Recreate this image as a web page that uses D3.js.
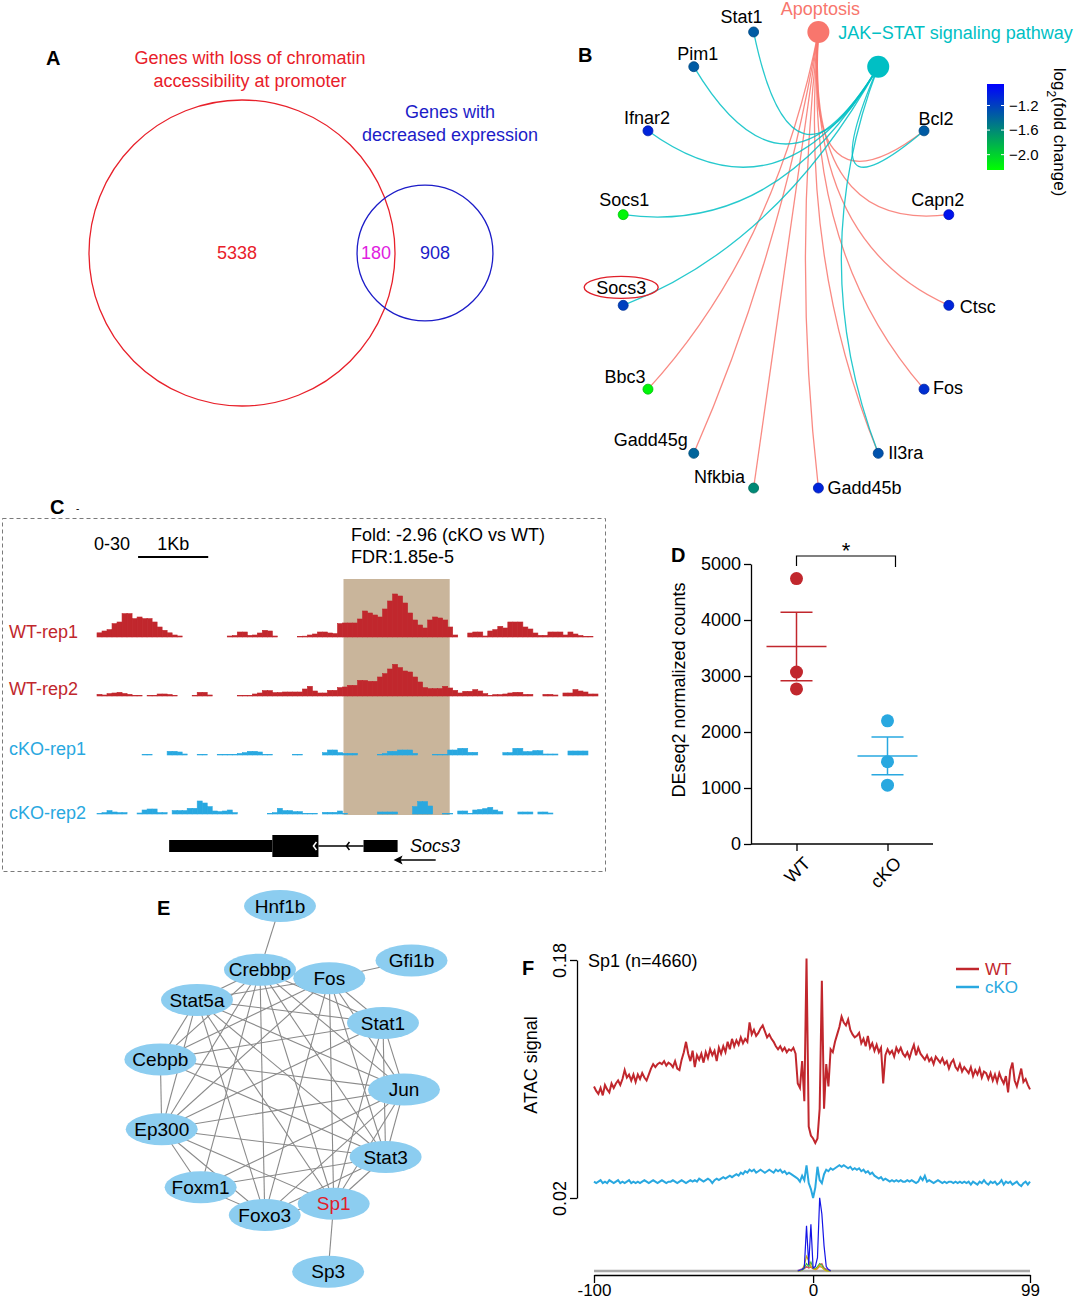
<!DOCTYPE html>
<html>
<head>
<meta charset="utf-8">
<script src="https://cdn.jsdelivr.net/npm/d3@7"></script>
<style>
body { margin: 0; background: #fff; }
svg text { font-family: "Liberation Sans", Arial, Helvetica, sans-serif; }
</style>
</head>
<body>
<div id="fig"></div>
<script>
// ---------- A: venn ----------
const vennTitles = [["Genes with loss of chromatin", "accessibility at promoter"], ["Genes with", "decreased expression"]];
const vennCounts = [5338, 180, 908]; // left only, both, right only

// ---------- B: gene-concept network ----------
const pathways = ["Apoptosis", "JAK\u2212STAT signaling pathway"];
const cnetGenes = ["Bcl2", "Capn2", "Ctsc", "Fos", "Il3ra", "Gadd45b", "Nfkbia", "Gadd45g", "Bbc3", "Socs3", "Socs1", "Ifnar2", "Pim1", "Stat1"];
const cnetFoldChange = [-1.35, -0.95, -1.05, -1.1, -1.3, -1.05, -1.6, -1.4, -2.2, -1.2, -2.2, -1.05, -1.35, -1.35];
const apoptosisGenes = ["Bcl2", "Capn2", "Ctsc", "Fos", "Il3ra", "Gadd45b", "Nfkbia", "Gadd45g", "Bbc3"];
const jakStatGenes = ["Bcl2", "Il3ra", "Socs3", "Socs1", "Ifnar2", "Pim1", "Stat1"];
const fcTicks = [-1.2, -1.6, -2.0];
const fcRange = [-2.25, -0.85];

// ---------- C: ATAC tracks (0-30 scale, bins of ~71 bp) ----------
const wtRep1 = [2.5, 3.6, 4.4, 8, 9, 14, 14, 11, 12, 11, 11, 9, 6, 4, 2.5, 1.2, 0.6,
  0, 0, 0, 0, 0, 0, 0, 0, 0,
  0.6, 0.9, 3, 3, 1, 1.2, 2.4, 4, 3.6, 0.6,
  0, 0, 0, 0,
  0.4, 0.5, 1.2, 1.8, 3, 3, 2.4, 2, 8, 8.4, 8.4, 8.4, 10.8, 15.6, 14.4, 13.2, 12, 16.8, 21.6, 25.8, 24.6, 20.4, 14.4, 10.2, 7.2, 5.4, 10.2, 12, 11.4, 10.2, 6, 1.2,
  0, 0,
  2.4, 3, 3, 0.6, 3.6, 4.4, 6.4, 5.4, 9, 9, 9, 6, 4.8, 2.4, 1, 1, 3, 3, 3, 1.2, 3, 1.8, 0.9, 0.4, 0.4, 0];
const wtRep2 = [1, 0.6, 1.4, 1.8, 2.2, 1.5, 1, 0.4, 0.4, 0, 0.4, 0.4, 1.2, 1.2, 0.9, 0.4, 0, 0, 0, 0.4,
  2.2, 2.2, 0.6, 0, 0, 0, 0, 0, 0.4, 0.4, 0.4, 1.2, 1.8, 3.2, 3.2, 2, 2.1, 2.4, 2.4, 2.4,
  2.4, 4.2, 5.8, 3, 1.8, 1.8, 3.4, 3.4, 5, 5.4, 6.4, 6.4, 9.4, 9.3, 8.8, 8.8, 11.4, 13.4, 16.2, 19,
  17, 15, 14.4, 11.4, 8.4, 5, 4.4, 4.4, 4.4, 5.8, 4.8, 3.4, 1.8, 2.8, 2.8, 3.8, 3, 1.4, 0.4, 0.8,
  0.8, 1.2, 1.8, 2.2, 2.2, 1, 1, 0, 0, 1, 1, 0.6, 0, 1.8, 1.8, 3.8, 3, 2.4, 1.2, 1.2];
const koRep1 = [0, 0, 0, 0, 0, 0, 0, 0, 0, 0.4, 0.4, 0, 0, 0, 2.2, 2.2, 1.8, 0.6, 0, 0,
  0.4, 0.4, 0, 0, 0.4, 0.4, 0.4, 0.4, 0.9, 1.4, 2.2, 2.2, 1.8, 0.4, 0.4, 0, 0, 0, 0, 0.4,
  0.4, 0, 0, 0, 0, 1.4, 3, 3, 1.4, 1, 1, 1, 0, 0, 0, 0, 0.4, 0.9, 2.2, 2.2,
  3, 3, 3, 1, 0, 0, 0, 0.4, 0.4, 0.4, 3, 3, 4, 4, 1.6, 1.6, 0, 0, 0, 0,
  0, 1.4, 1.4, 4, 4, 2, 2, 2.6, 2.6, 0.6, 0.6, 0.6, 0, 0, 2.4, 2.4, 2.4, 2.4, 0, 0];
const koRep2 = [0.3, 0.8, 2, 1.2, 0.8, 0.8, 0, 0, 0.6, 2.4, 3, 3, 0.8, 0.8, 0, 2, 2, 2, 3.4, 3.4,
  7.8, 6.6, 4.4, 1.8, 1.4, 1.8, 2.4, 0.8, 0, 0, 0, 0, 0, 0, 0.4, 0.8, 3.4, 2, 2, 1.4,
  1.4, 0.4, 0.4, 0.4, 0, 1, 1, 1, 1.8, 0.4, 0, 0, 0, 0, 0, 0, 1.2, 1.2, 1.2, 1.2,
  0, 0, 0, 4.4, 7.4, 7.4, 4.8, 0, 0, 0.4, 0.4, 0, 1.8, 1.8, 0.4, 2.4, 2.7, 3.2, 4, 2.4,
  1.4, 0, 0, 0, 1.2, 1.2, 1.2, 0, 1.2, 1.2, 0.6, 0, 0, 0, 0, 0, 0, 0, 0, 0];
const peakRegion = [49.2, 70.4];      // bins
const scaleBar1Kb = [8.2, 22.2];      // bins
const geneUTR = [14.4, 35];
const geneCDS = [35, 44.2];
const geneIntron = [44.2, 53.2];
const geneExon2 = [53.2, 60];
const strandArrow = [67.6, 59.2];

// ---------- D: DESeq2 counts ----------
const groups = ["WT", "cKO"];
const countsWT = [4740, 3070, 2770];
const countsKO = [2200, 1470, 1050];
const countTicks = [0, 1000, 2000, 3000, 4000, 5000];

// ---------- E: PPI network ----------
const ppiCore = ["Crebbp", "Fos", "Stat1", "Jun", "Stat3", "Sp1", "Foxo3", "Foxm1", "Ep300", "Cebpb", "Stat5a"];
const ppiOuter = ["Hnf1b", "Gfi1b", "Sp3"];
const ppiOuterAngle = [0, 45, 165];
const ppiEdges = [
  ["Crebbp", "Fos"], ["Crebbp", "Stat1"], ["Crebbp", "Jun"], ["Crebbp", "Stat3"], ["Crebbp", "Sp1"], ["Crebbp", "Foxo3"],
  ["Crebbp", "Foxm1"], ["Crebbp", "Ep300"], ["Crebbp", "Cebpb"], ["Crebbp", "Stat5a"],
  ["Fos", "Stat1"], ["Fos", "Jun"], ["Fos", "Stat3"], ["Fos", "Sp1"], ["Fos", "Foxo3"], ["Fos", "Ep300"], ["Fos", "Cebpb"], ["Fos", "Stat5a"],
  ["Stat1", "Jun"], ["Stat1", "Stat3"], ["Stat1", "Sp1"], ["Stat1", "Ep300"], ["Stat1", "Cebpb"], ["Stat1", "Stat5a"],
  ["Jun", "Stat3"], ["Jun", "Sp1"], ["Jun", "Foxo3"], ["Jun", "Foxm1"], ["Jun", "Ep300"], ["Jun", "Cebpb"], ["Jun", "Stat5a"],
  ["Stat3", "Sp1"], ["Stat3", "Foxo3"], ["Stat3", "Foxm1"], ["Stat3", "Ep300"], ["Stat3", "Cebpb"], ["Stat3", "Stat5a"],
  ["Sp1", "Foxo3"], ["Sp1", "Ep300"], ["Sp1", "Stat5a"],
  ["Foxo3", "Foxm1"], ["Foxo3", "Ep300"], ["Foxo3", "Stat5a"],
  ["Foxm1", "Ep300"], ["Ep300", "Cebpb"], ["Ep300", "Stat5a"], ["Cebpb", "Stat5a"],
  ["Hnf1b", "Crebbp"], ["Gfi1b", "Fos"], ["Sp3", "Sp1"]];

// ---------- F: ATAC aggregate around Sp1 motif ----------
const atacWT = [
  0.095, 0.092, 0.090, 0.094, 0.089, 0.096, 0.093, 0.091, 0.097, 0.094,
  0.097, 0.099, 0.096, 0.100, 0.106, 0.101, 0.103, 0.099, 0.103, 0.098,
  0.103, 0.100, 0.104, 0.101, 0.099, 0.103, 0.107, 0.110, 0.108, 0.110,
  0.111, 0.110, 0.112, 0.109, 0.111, 0.110, 0.108, 0.112, 0.107, 0.106,
  0.113, 0.118, 0.125, 0.117, 0.112, 0.119, 0.108, 0.116, 0.113, 0.117,
  0.111, 0.118, 0.114, 0.120, 0.116, 0.119, 0.112, 0.121, 0.117, 0.122,
  0.118, 0.125, 0.120, 0.127, 0.122, 0.126, 0.123, 0.128, 0.124, 0.127,
  0.125, 0.138, 0.130, 0.133, 0.129, 0.131, 0.134, 0.136, 0.132, 0.128,
  0.130, 0.127, 0.125, 0.122, 0.120, 0.122, 0.119, 0.121, 0.118, 0.120,
  0.119, 0.121, 0.117, 0.097, 0.094, 0.112, 0.085, 0.181, 0.068, 0.062,
  0.060, 0.057, 0.060, 0.080, 0.166, 0.080, 0.110, 0.095, 0.120, 0.118,
  0.125, 0.130, 0.135, 0.142, 0.138, 0.136, 0.140, 0.133, 0.130, 0.128,
  0.129, 0.131, 0.124, 0.127, 0.122, 0.129, 0.121, 0.124, 0.119, 0.123,
  0.118, 0.121, 0.097, 0.116, 0.120, 0.117, 0.119, 0.115, 0.121, 0.118,
  0.121, 0.117, 0.115, 0.118, 0.114, 0.119, 0.123, 0.116, 0.121, 0.117,
  0.115, 0.113, 0.116, 0.112, 0.114, 0.110, 0.115, 0.113, 0.111, 0.114,
  0.110, 0.112, 0.107, 0.111, 0.113, 0.108, 0.106, 0.110, 0.105, 0.108,
  0.106, 0.104, 0.108, 0.102, 0.106, 0.103, 0.107, 0.101, 0.105, 0.104,
  0.100, 0.104, 0.099, 0.103, 0.098, 0.104, 0.100, 0.097, 0.102, 0.091,
  0.106, 0.111, 0.099, 0.095, 0.101, 0.107, 0.098, 0.100, 0.096, 0.093];
const atacKO = [
  0.031, 0.030, 0.031, 0.032, 0.030, 0.031, 0.030, 0.032, 0.031, 0.030,
  0.031, 0.032, 0.030, 0.031, 0.030, 0.031, 0.032, 0.030, 0.031, 0.030,
  0.031, 0.030, 0.031, 0.032, 0.031, 0.030, 0.031, 0.032, 0.031, 0.030,
  0.031, 0.032, 0.031, 0.030, 0.031, 0.031, 0.032, 0.031, 0.030, 0.031,
  0.032, 0.031, 0.030, 0.031, 0.032, 0.031, 0.032, 0.031, 0.033, 0.032,
  0.031, 0.032, 0.033, 0.032, 0.030, 0.032, 0.033, 0.032, 0.033, 0.034,
  0.033, 0.034, 0.035, 0.034, 0.035, 0.036, 0.035, 0.037, 0.036, 0.038,
  0.037, 0.039, 0.038, 0.039, 0.037, 0.038, 0.039, 0.038, 0.037, 0.038,
  0.039, 0.038, 0.037, 0.039, 0.038, 0.039, 0.037, 0.038, 0.036, 0.037,
  0.036, 0.035, 0.034, 0.033, 0.031, 0.035, 0.032, 0.042, 0.030, 0.026,
  0.020, 0.027, 0.041, 0.032, 0.030, 0.036, 0.039, 0.038, 0.040, 0.039,
  0.040, 0.041, 0.042, 0.041, 0.042, 0.041, 0.040, 0.041, 0.039, 0.040,
  0.039, 0.040, 0.038, 0.039, 0.037, 0.038, 0.036, 0.037, 0.035, 0.034,
  0.033, 0.034, 0.032, 0.033, 0.032, 0.031, 0.032, 0.031, 0.032, 0.031,
  0.032, 0.031, 0.031, 0.032, 0.031, 0.032, 0.031, 0.030, 0.031, 0.034,
  0.032, 0.035, 0.031, 0.032, 0.031, 0.030, 0.031, 0.032, 0.031, 0.030,
  0.031, 0.030, 0.031, 0.031, 0.030, 0.031, 0.030, 0.031, 0.030, 0.031,
  0.030, 0.031, 0.029, 0.031, 0.030, 0.029, 0.031, 0.030, 0.032, 0.030,
  0.029, 0.031, 0.030, 0.031, 0.029, 0.030, 0.032, 0.029, 0.031, 0.030,
  0.031, 0.029, 0.030, 0.031, 0.029, 0.028, 0.030, 0.031, 0.029, 0.031];
const atacTicksX = [-100, 0, 99];
const atacTicksY = [0.02, 0.18];
// motif base frequency overlay, positions -7..8
const motifPos = [-7, -6, -5, -4, -3, -2, -1, 0, 1, 2, 3, 4, 5, 6, 7, 8];
const motifSeries = [
  {color: "#9b6fc0", values: [1, 2, 3, 4, 5, 5, 6, 4, 3, 4, 6, 5, 4, 3, 2, 1]},
  {color: "#e04a5a", values: [0, 1, 2, 3, 6, 4, 5, 3, 2, 3, 8, 10, 4, 2, 1, 0]},
  {color: "#3fae49", values: [0, 0, 1, 4, 10, 6, 12, 4, 3, 6, 10, 8, 3, 1, 0, 0]},
  {color: "#d9b300", values: [0, 0, 2, 8, 20, 14, 6, 3, 2, 4, 8, 5, 2, 0, 0, 0]},
  {color: "#1414e6", values: [0, 1, 2, 5, 61, 8, 63, 4, 6, 18, 99, 77, 34, 6, 2, 0]}];

// ---------- drawing ----------
const red = "#c1272d", blue = "#29a8e0";
const svg = d3.select("#fig").append("svg").attr("width", 1082).attr("height", 1300);

function label(t, x, y) {
  svg.append("text").attr("x", x).attr("y", y).text(t)
    .style("font-size", "20px").style("font-weight", "bold");
}
function styleAxis(g) {
  g.attr("font-family", null).attr("font-size", null);
  g.selectAll("text").style("font-size", "18px").attr("fill", "#000");
  g.selectAll("line, path").attr("stroke", "#000").attr("stroke-width", 1.3);
}

// A
label("A", 46, 65);
const vennR = d3.scaleSqrt().domain([0, vennCounts[0] + vennCounts[1]]).range([0, 153]);
const vennX = d3.scaleLinear().domain([0, 1]).range([242, 425]);
const vennY = 253;
const sets = [
  {r: vennR(vennCounts[0] + vennCounts[1]), color: "#e8202a", titleX: 250, titleY: 64},
  {r: vennR(vennCounts[1] + vennCounts[2]), color: "#1c1cc8", titleX: 450, titleY: 118}];
sets.forEach(function(s, i) {
  svg.append("circle").attr("cx", vennX(i)).attr("cy", vennY).attr("r", s.r)
    .attr("fill", "none").attr("stroke", s.color).attr("stroke-width", 1.3);
  vennTitles[i].forEach(function(line, j) {
    svg.append("text").attr("x", s.titleX).attr("y", s.titleY + j * 23).text(line)
      .attr("text-anchor", "middle").attr("fill", s.color).style("font-size", "18px");
  });
});
const vennNumX = [vennX(0) - 5, (vennX(1) - sets[1].r + vennX(0) + sets[0].r) / 2, vennX(1) + 10];
const vennNumColor = ["#e8202a", "#e020e0", "#1c1cc8"];
vennCounts.forEach(function(c, i) {
  svg.append("text").attr("x", vennNumX[i]).attr("y", vennY + 6).text(c)
    .attr("text-anchor", "middle").attr("fill", vennNumColor[i]).style("font-size", "18px");
});

// B
label("B", 578, 62);
const pathColor = ["#F8766D", "#00BFC4"];
const cnetNodes = pathways.concat(cnetGenes);
const bx = d3.scaleLinear().domain([-1, 1]).range([620, 952]);
const by = d3.scaleLinear().domain([-1, 1]).range([27.5, 492.5]);
const fcColor = d3.scaleLinear().domain(fcRange).range(["#00ff00", "#0000ff"]).interpolate(d3.interpolateRgb);
const nodePos = new Map();
cnetNodes.forEach(function(n, i) {
  let a = (i + 0.5) * 2 * Math.PI / cnetNodes.length;
  nodePos.set(n, [bx(Math.sin(a)), by(-Math.cos(a))]);
});
const ctr = [bx(0), by(0)];
function arcPath(s, t) {
  let m = [(s[0] + t[0]) / 2, (s[1] + t[1]) / 2];
  let c = [m[0] + 0.8 * (ctr[0] - m[0]), m[1] + 0.8 * (ctr[1] - m[1])];
  return "M" + s + "Q" + c + " " + t;
}
[apoptosisGenes, jakStatGenes].forEach(function(list, k) {
  svg.append("g").selectAll("path").data(list).enter().append("path")
    .attr("d", g => arcPath(nodePos.get(pathways[k]), nodePos.get(g)))
    .attr("fill", "none").attr("stroke", pathColor[k]).attr("stroke-width", 1.3).attr("opacity", 0.85);
});
pathways.forEach(function(p, k) {
  let pos = nodePos.get(p);
  svg.append("circle").attr("cx", pos[0]).attr("cy", pos[1]).attr("r", 11).attr("fill", pathColor[k]);
});
svg.append("g").selectAll("circle").data(cnetGenes).enter().append("circle")
  .attr("cx", g => nodePos.get(g)[0]).attr("cy", g => nodePos.get(g)[1]).attr("r", 5)
  .attr("fill", (g, i) => fcColor(cnetFoldChange[i]))
  .attr("stroke", (g, i) => d3.color(fcColor(cnetFoldChange[i])).darker(0.7)).attr("stroke-width", 0.8);

// label nudges [dx, dy, anchor]
const nudge = {
  "Apoptosis": [2, -23, "middle"], "JAK\u2212STAT signaling pathway": [-40, -34, "start"],
  "Bcl2": [12, -12, "middle"], "Capn2": [-11, -15, "middle"], "Ctsc": [11, 1, "start"],
  "Fos": [9, -1, "start"], "Il3ra": [10, -1, "start"], "Gadd45b": [9, 0, "start"],
  "Nfkbia": [-34, -11, "middle"], "Gadd45g": [-43, -14, "middle"], "Bbc3": [-23, -12, "middle"],
  "Socs3": [-2, -18, "middle"], "Socs1": [1, -15, "middle"], "Ifnar2": [-1, -13, "middle"],
  "Pim1": [4, -13, "middle"], "Stat1": [-12, -15, "middle"]};
cnetNodes.forEach(function(n, i) {
  let pos = nodePos.get(n), nd = nudge[n];
  svg.append("text").attr("x", pos[0] + nd[0]).attr("y", pos[1] + nd[1]).attr("dy", "0.35em")
    .attr("text-anchor", nd[2]).text(n).style("font-size", "18px")
    .attr("fill", i < 2 ? pathColor[i] : "#000");
});
let s3 = nodePos.get("Socs3");
svg.append("ellipse").attr("cx", s3[0] - 2).attr("cy", s3[1] - 18).attr("rx", 37).attr("ry", 11)
  .attr("fill", "none").attr("stroke", "#e0202a").attr("stroke-width", 1.4);

// colour bar
const cbY = d3.scaleLinear().domain([fcRange[1], fcRange[0]]).range([84, 170]);
const grad = svg.append("defs").append("linearGradient").attr("id", "fcgrad")
  .attr("x1", 0).attr("y1", 0).attr("x2", 0).attr("y2", 1);
d3.range(0, 1.01, 0.1).forEach(function(t) {
  grad.append("stop").attr("offset", t).attr("stop-color", fcColor(cbY.invert(84 + t * 86)));
});
svg.append("rect").attr("x", 987).attr("y", cbY(fcRange[1])).attr("width", 17)
  .attr("height", cbY(fcRange[0]) - cbY(fcRange[1])).attr("fill", "url(#fcgrad)");
fcTicks.forEach(function(v) {
  svg.append("line").attr("x1", 987).attr("x2", 990).attr("y1", cbY(v)).attr("y2", cbY(v)).attr("stroke", "#fff");
  svg.append("line").attr("x1", 1001).attr("x2", 1004).attr("y1", cbY(v)).attr("y2", cbY(v)).attr("stroke", "#fff");
  svg.append("text").attr("x", 1009).attr("y", cbY(v)).attr("dy", "0.35em")
    .text(d3.format(".1f")(v).replace("-", "\u2212")).style("font-size", "15px");
});
const lt = svg.append("text").attr("transform", "translate(1060,132) rotate(90)")
  .attr("text-anchor", "middle").attr("dy", "0.35em").style("font-size", "17px");
lt.append("tspan").text("log");
lt.append("tspan").text("2").attr("baseline-shift", "sub").style("font-size", "12px");
lt.append("tspan").text("(fold change)");

// C
label("C", 50, 514);
svg.append("text").attr("x", 76).attr("y", 512).text("-").style("font-size", "10px");
svg.append("rect").attr("x", 2.5).attr("y", 518.5).attr("width", 603).attr("height", 353)
  .attr("fill", "none").attr("stroke", "#7a7a7a").attr("stroke-dasharray", "4,3");
const tx = d3.scaleLinear().domain([0, 100]).range([97, 598]);
const th = d3.scaleLinear().domain([0, 30]).range([0, 50]);
svg.append("rect").attr("x", tx(peakRegion[0])).attr("width", tx(peakRegion[1]) - tx(peakRegion[0]))
  .attr("y", 579).attr("height", 236).attr("fill", "#c9b59b");
svg.append("text").attr("x", 112).attr("y", 550).attr("text-anchor", "middle").text("0-30").style("font-size", "18px");
svg.append("text").attr("x", (tx(scaleBar1Kb[0]) + tx(scaleBar1Kb[1])) / 2).attr("y", 550)
  .attr("text-anchor", "middle").text("1Kb").style("font-size", "18px");
svg.append("line").attr("x1", tx(scaleBar1Kb[0])).attr("x2", tx(scaleBar1Kb[1])).attr("y1", 557).attr("y2", 557)
  .attr("stroke", "#000").attr("stroke-width", 2);
svg.append("text").attr("x", 351).attr("y", 541).text("Fold: -2.96 (cKO vs WT)").style("font-size", "18px");
svg.append("text").attr("x", 351).attr("y", 563).text("FDR:1.85e-5").style("font-size", "18px");

const tracks = [
  {name: "WT-rep1", values: wtRep1, base: 637, labelY: 638, color: red},
  {name: "WT-rep2", values: wtRep2, base: 696, labelY: 695, color: red},
  {name: "cKO-rep1", values: koRep1, base: 755, labelY: 755, color: blue},
  {name: "cKO-rep2", values: koRep2, base: 814, labelY: 819, color: blue}];
tracks.forEach(function(t) {
  svg.append("text").attr("x", 9).attr("y", t.labelY).text(t.name).attr("fill", t.color).style("font-size", "18px");
  svg.append("g").selectAll("rect").data(t.values.map((v, i) => [i, v]).filter(d => d[1] > 0))
    .enter().append("rect")
    .attr("x", d => tx(d[0])).attr("width", d => tx(d[0] + 1) - tx(d[0]))
    .attr("y", d => t.base - th(d[1])).attr("height", d => th(d[1]))
    .attr("fill", t.color).attr("stroke", t.color).attr("stroke-width", 0.6);
});
// gene model
svg.append("line").attr("x1", tx(geneIntron[0])).attr("x2", tx(geneIntron[1])).attr("y1", 846).attr("y2", 846)
  .attr("stroke", "#000").attr("stroke-width", 1.5);
[[geneUTR, 840, 12], [geneCDS, 835, 22], [geneExon2, 840, 12]].forEach(function(b) {
  svg.append("rect").attr("x", tx(b[0][0])).attr("width", tx(b[0][1]) - tx(b[0][0]))
    .attr("y", b[1]).attr("height", b[2]).attr("fill", "#000");
});
[[tx(geneCDS[1]) - 5, "#fff"], [tx(geneIntron[0]) + 28, "#000"]].forEach(function(c) {
  svg.append("path").attr("d", "M" + (c[0] + 3) + ",842L" + c[0] + ",846L" + (c[0] + 3) + ",850")
    .attr("fill", "none").attr("stroke", c[1]).attr("stroke-width", 1.5);
});
svg.append("text").attr("x", 410).attr("y", 852).text("Socs3").style("font-size", "18px").style("font-style", "italic");
svg.append("line").attr("x1", tx(strandArrow[0])).attr("x2", tx(strandArrow[1]) + 6).attr("y1", 860).attr("y2", 860)
  .attr("stroke", "#000").attr("stroke-width", 1.5);
svg.append("path").attr("d", "M" + tx(strandArrow[1]) + ",860l9,-4.5l-2,4.5l2,4.5z").attr("fill", "#000");

// D
label("D", 671, 562);
const dy = d3.scaleLinear().domain([0, 5000]).range([844, 564]);
const dx = d3.scalePoint().domain(groups).range([751, 933]).padding(0.5);
const gy = svg.append("g").attr("transform", "translate(751,0)")
  .call(d3.axisLeft(dy).tickValues(countTicks).tickSize(7).tickSizeOuter(0).tickFormat(d3.format("d")));
styleAxis(gy);
const gx = svg.append("g").attr("transform", "translate(0,844)")
  .call(d3.axisBottom(dx).tickSize(7).tickSizeOuter(0));
styleAxis(gx);
gx.select(".domain").attr("d", "M751,0H933");
gx.selectAll("text").attr("y", 0).attr("dy", "0.35em").style("text-anchor", "end")
  .attr("transform", "translate(10,16) rotate(-45)");
svg.append("text").attr("transform", "translate(685,690) rotate(-90)").attr("text-anchor", "middle")
  .text("DEseq2 normalized counts").style("font-size", "18px");
[[countsWT, red], [countsKO, blue]].forEach(function(g, k) {
  let vals = g[0], col = g[1], x0 = dx(groups[k]);
  let m = d3.mean(vals), se = d3.deviation(vals) / Math.sqrt(vals.length);
  svg.append("g").selectAll("circle").data(vals).enter().append("circle")
    .attr("cx", x0).attr("cy", v => dy(v)).attr("r", 6.5).attr("fill", col);
  svg.append("line").attr("x1", x0).attr("x2", x0).attr("y1", dy(m - se)).attr("y2", dy(m + se)).attr("stroke", col).attr("stroke-width", 1.5);
  svg.append("line").attr("x1", x0 - 30).attr("x2", x0 + 30).attr("y1", dy(m)).attr("y2", dy(m)).attr("stroke", col).attr("stroke-width", 1.5);
  [m - se, m + se].forEach(function(v) {
    svg.append("line").attr("x1", x0 - 16).attr("x2", x0 + 16).attr("y1", dy(v)).attr("y2", dy(v)).attr("stroke", col).attr("stroke-width", 1.5);
  });
});
svg.append("path").attr("d", "M" + dx("WT") + ",566V556H" + (dx("cKO") + 8) + "V567")
  .attr("fill", "none").attr("stroke", "#000").attr("stroke-width", 1.2);
svg.append("text").attr("x", (dx("WT") + dx("cKO") + 8) / 2).attr("y", 558).attr("text-anchor", "middle")
  .text("*").style("font-size", "22px");

// E
label("E", 157, 915);
const ex = d3.scaleLinear().domain([-1, 1]).range([156, 404]);
const ey = d3.scaleLinear().domain([-1, 1]).range([968, 1216]);
const ppiPos = new Map();
ppiCore.forEach(function(n, i) {
  let a = (-9.3 + i * 360 / ppiCore.length) * Math.PI / 180;
  ppiPos.set(n, [ex(Math.sin(a)), ey(-Math.cos(a))]);
});
ppiOuter.forEach(function(n, i) {
  let a = ppiOuterAngle[i] * Math.PI / 180;
  ppiPos.set(n, [ex(1.5 * Math.sin(a)), ey(-1.5 * Math.cos(a))]);
});
svg.append("g").selectAll("line").data(ppiEdges).enter().append("line")
  .attr("x1", e => ppiPos.get(e[0])[0]).attr("y1", e => ppiPos.get(e[0])[1])
  .attr("x2", e => ppiPos.get(e[1])[0]).attr("y2", e => ppiPos.get(e[1])[1])
  .attr("stroke", "#8a8a8a").attr("stroke-width", 1.1);
const ppiNodes = ppiCore.concat(ppiOuter);
const gn = svg.append("g").selectAll("g").data(ppiNodes).enter().append("g")
  .attr("transform", n => "translate(" + ppiPos.get(n) + ")");
gn.append("ellipse").attr("rx", 36).attr("ry", 16).attr("fill", "#8ccdf0");
gn.append("text").attr("text-anchor", "middle").attr("dy", "0.35em").text(n => n)
  .style("font-size", "19px").attr("fill", n => n == "Sp1" ? "#e0202a" : "#000");

// F
label("F", 522, 975);
const fx = d3.scaleLinear().domain([-100, 99]).range([594, 1030]);
const fy = d3.scaleLinear().domain(atacTicksY).range([1198, 960]);
const my = d3.scaleLinear().domain([0, 100]).range([1271, 1197]);
const positions = d3.range(-100, 100);
const gfy = svg.append("g").attr("transform", "translate(577,0)")
  .call(d3.axisLeft(fy).tickValues(atacTicksY).tickSize(7).tickSizeOuter(0).tickFormat(d3.format(".2f")));
styleAxis(gfy);
gfy.selectAll("text").attr("transform", "rotate(-90)").attr("x", 0).attr("y", -11).attr("dy", 0)
  .style("text-anchor", "middle");
svg.append("text").attr("transform", "translate(537,1065) rotate(-90)").attr("text-anchor", "middle")
  .text("ATAC signal").style("font-size", "18px");
svg.append("text").attr("x", 588).attr("y", 967).text("Sp1 (n=4660)").style("font-size", "18px");

svg.append("line").attr("x1", fx(-100)).attr("x2", fx(99)).attr("y1", my(0)).attr("y2", my(0))
  .attr("stroke", "#a8a8a8").attr("stroke-width", 2.5);
const mline = d3.line().x((d, i) => fx(motifPos[i])).y(d => my(d));
motifSeries.forEach(function(s) {
  svg.append("path").attr("d", mline(s.values)).attr("fill", "none").attr("stroke", s.color).attr("stroke-width", 1.2);
});
const aline = d3.line().x((d, i) => fx(positions[i])).y(d => fy(d));
svg.append("path").attr("d", aline(atacKO)).attr("fill", "none").attr("stroke", blue).attr("stroke-width", 2);
svg.append("path").attr("d", aline(atacWT)).attr("fill", "none").attr("stroke", red).attr("stroke-width", 2);
const gfx = svg.append("g").attr("transform", "translate(0,1275)")
  .call(d3.axisBottom(fx).tickValues(atacTicksX).tickSize(8).tickPadding(1).tickSizeOuter(0).tickFormat(d => String(d)));
styleAxis(gfx);
gfx.selectAll("text").style("font-size", "17px");
[["WT", red, 969], ["cKO", blue, 987]].forEach(function(l) {
  svg.append("line").attr("x1", 956).attr("x2", 979).attr("y1", l[2]).attr("y2", l[2]).attr("stroke", l[1]).attr("stroke-width", 2.5);
  svg.append("text").attr("x", 985).attr("y", l[2]).attr("dy", "0.35em").text(l[0]).attr("fill", l[1]).style("font-size", "17px");
});
</script>
</body>
</html>
